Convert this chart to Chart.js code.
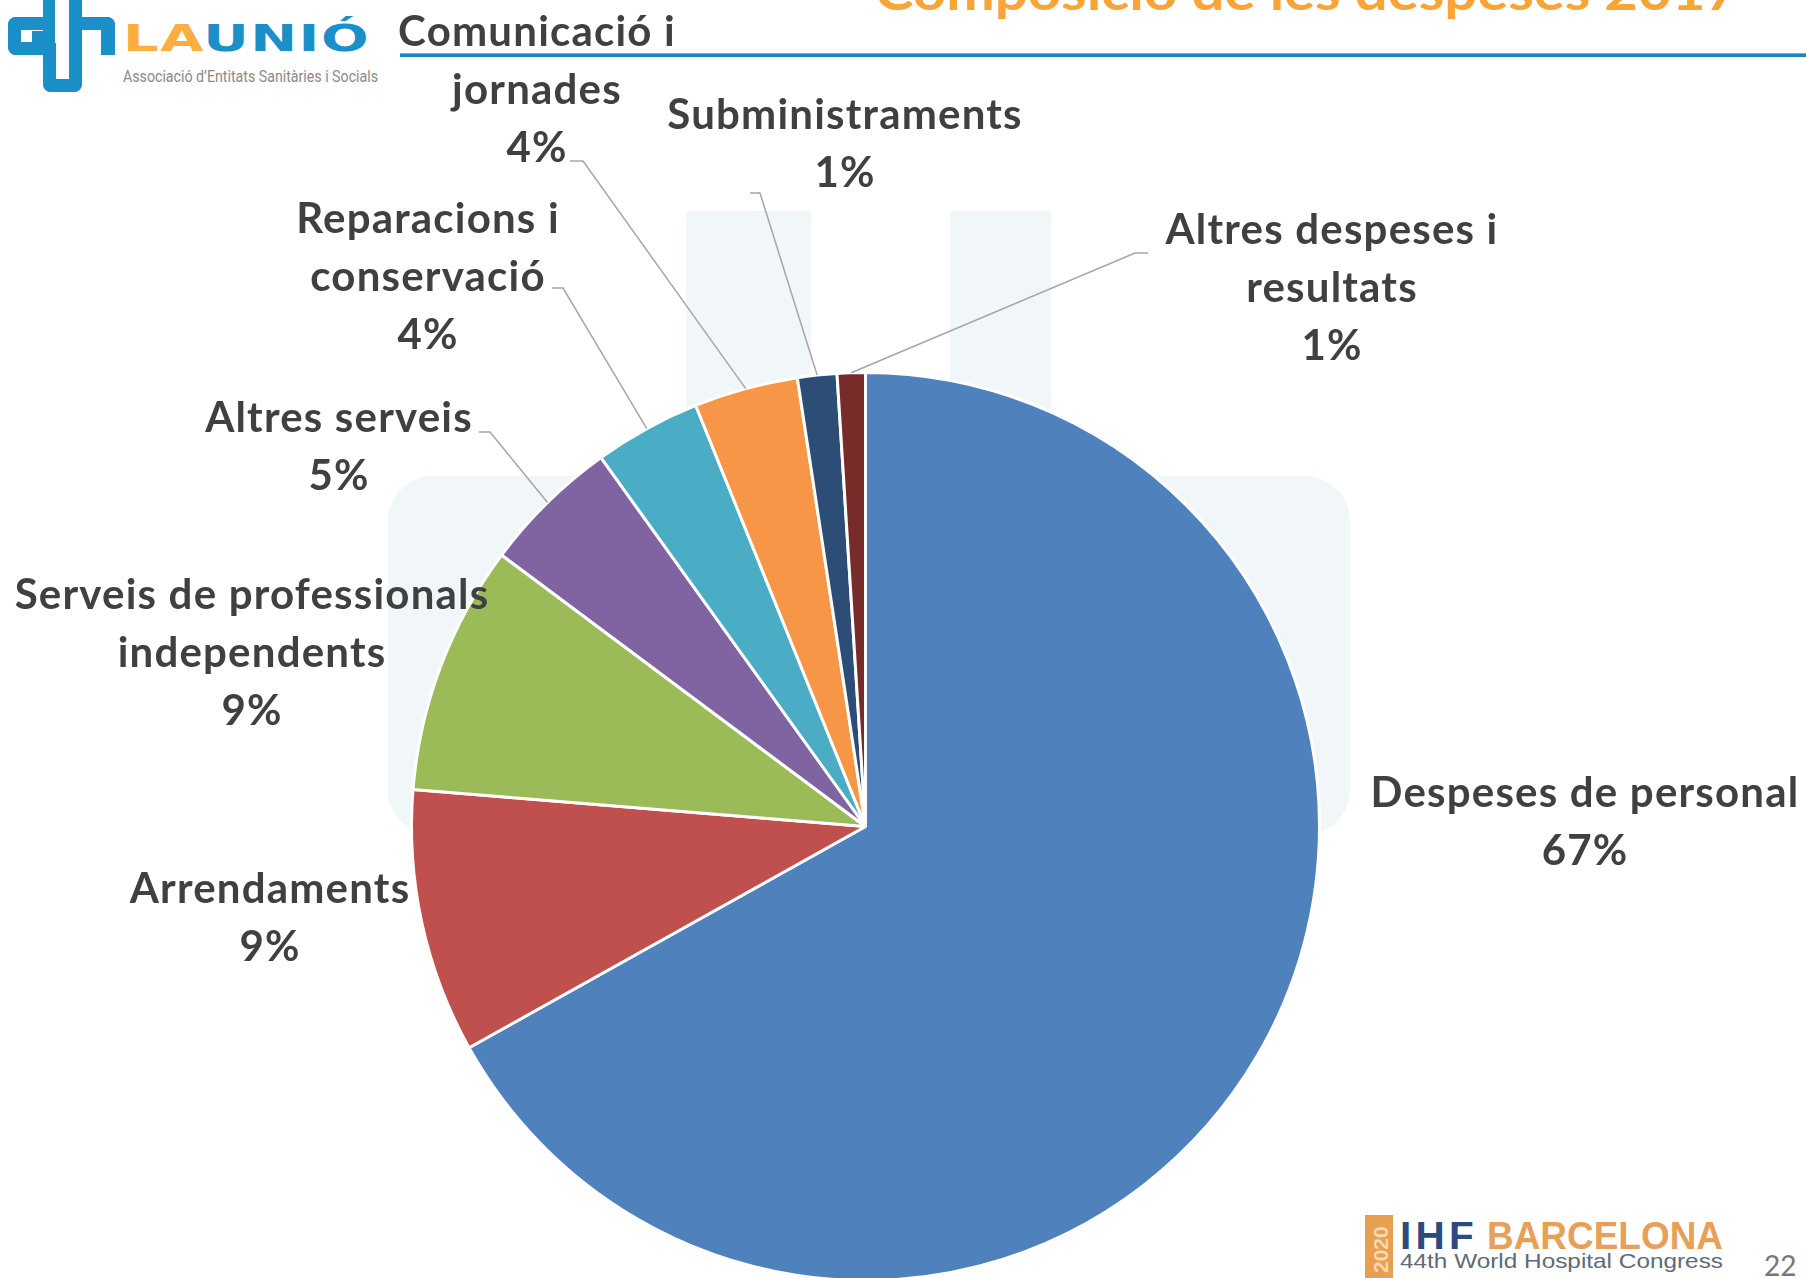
<!DOCTYPE html>
<html>
<head>
<meta charset="utf-8">
<script src="https://cdn.jsdelivr.net/npm/chart.js@4.4.1/dist/chart.umd.min.js"></script>
<style>
  html, body { margin:0; padding:0; width:1806px; height:1278px; overflow:hidden; background:#ffffff; }
  * { box-sizing:border-box; }
  .abs { position:absolute; }
  .wm { position:absolute; background:#f1f6f9; }
  .txt { position:absolute; white-space:nowrap; line-height:1; transform-origin:0 0; }
  .blue { position:absolute; background:#1b8fc7; }
  #chartWrap { position:absolute; left:0; top:0; width:1806px; height:1400px; }
</style>
</head>
<body>
<!-- faint watermark shapes -->
<div class="wm" style="left:686px; top:211px; width:125px; height:300px;"></div>
<div class="wm" style="left:950px; top:211px; width:101px; height:300px;"></div>
<div class="wm" style="left:388px; top:476px; width:962px; height:359px; border-radius:45px;"></div>

<!-- title (cut off at top) -->
<div class="txt" data-w="864" style="left:875px; top:-41px; font:bold 52px Lato; color:#f9a436;">Composició de les despeses 2017</div>
<!-- header line -->
<div class="abs" style="left:400px; top:53px; width:1406px; height:1px; background:#5fb3dc;"></div>
<div class="abs" style="left:400px; top:54px; width:1406px; height:3px; background:#1787c2;"></div>

<!-- La Unió logo -->
<div class="abs" style="left:8px; top:17px; width:36px; height:38px; border:13px solid #1b8fc7; border-right:none; border-radius:8px 0 0 8px;"></div>
<div class="blue" style="left:32px; top:31px; width:11px; height:11px;"></div>
<div class="blue" style="left:43px; top:0px; width:12px; height:44px;"></div>
<div class="blue" style="left:69px; top:0px; width:13px; height:55px;"></div>
<div class="abs" style="left:69px; top:17px; width:46px; height:38px; border-top:13px solid #1b8fc7; border-right:14px solid #1b8fc7; border-radius:0 8px 0 0;"></div>
<div class="abs" style="left:43px; top:43px; width:39px; height:49px; border:13px solid #1b8fc7; border-top:none; border-radius:0 0 8px 8px;"></div>
<div class="txt" data-w="247" style="left:123px; top:16px; font:bold 38px 'DejaVu Sans'; letter-spacing:1px;"><span style="color:#f9ae3f;">LA</span><span style="color:#1b8fc7;">UNIÓ</span></div>
<div class="txt" data-w="255" style="left:123px; top:66px; font:17px Roboto; color:#8a8a8a;">Associació d’Entitats Sanitàries i Socials</div>

<!-- IHF logo -->
<div class="abs" style="left:1365px; top:1215px; width:28px; height:63px; background:#e89f4f;"></div>
<div class="txt" style="left:1369px; top:1273px; font:bold 21px 'Liberation Sans'; color:#f7d9b4; transform:rotate(-90deg);">2020</div>
<div class="txt" data-w="78" style="left:1400px; top:1215px; font:bold 38px 'Liberation Sans'; color:#2b4a7d; letter-spacing:4px;">IHF</div>
<div class="txt" data-w="236" style="left:1487px; top:1215px; font:bold 38px 'Liberation Sans'; color:#e6a05a;">BARCELONA</div>
<div class="txt" data-w="323" style="left:1400px; top:1249px; font:21px 'Liberation Sans'; color:#5f6a78;">44th World Hospital Congress</div>
<div class="txt" style="left:1764px; top:1248px; font:28px Lato; color:#777777;">22</div>

<div id="chartWrap"><canvas id="c" width="1806" height="1400"></canvas></div>

<script>
// ---- data ----
const categories = [
  ['Despeses de personal'],
  ['Arrendaments'],
  ['Serveis de professionals', 'independents'],
  ['Altres serveis'],
  ['Reparacions i', 'conservació'],
  ['Comunicació i', 'jornades'],
  ['Subministraments'],
  ['Altres despeses i', 'resultats']
];
const values = [66.9, 9.4, 8.9, 4.9, 3.8, 3.7, 1.4, 1.0];
const colors = ['#4f81bd', '#c0504d', '#9bbb59', '#8064a2', '#4bacc6', '#f79646', '#2c4d75', '#772c2a'];

// ---- label layout (positions only) ----
const labelPos = [
  {x:1585, y:807}, {x:270, y:903}, {x:252, y:609}, {x:339, y:432},
  {x:428, y:233}, {x:537, y:46}, {x:845, y:129}, {x:1332, y:244}
];
const leaders = [
  null, null, null,
  {elbow:[490,432], end:[479,432]},
  {elbow:[563,288], end:[552,288]},
  {elbow:[583,161], end:[570,161]},
  {elbow:[760,193], end:[750,193]},
  {elbow:[1135,253], end:[1148,253]}
];
const lineH = 58;

const outLabels = {
  id: 'outLabels',
  afterDatasetsDraw(chart) {
    const ctx = chart.ctx;
    const meta = chart.getDatasetMeta(0);
    const data = chart.data.datasets[0].data;
    const total = data.reduce((a, b) => a + b, 0);
    ctx.save();
    meta.data.forEach((arc, i) => {
      const p = arc.getProps(['x', 'y', 'startAngle', 'endAngle', 'outerRadius'], true);
      const mid = (p.startAngle + p.endAngle) / 2;
      const px = p.x + Math.cos(mid) * p.outerRadius;
      const py = p.y + Math.sin(mid) * p.outerRadius;
      const L = leaders[i];
      if (L) {
        ctx.beginPath();
        ctx.strokeStyle = '#a6a6a6';
        ctx.lineWidth = 1.5;
        ctx.moveTo(px, py);
        ctx.lineTo(L.elbow[0], L.elbow[1]);
        ctx.lineTo(L.end[0], L.end[1]);
        ctx.stroke();
      }
      const lines = [...chart.data.labels[i], Math.round(data[i] / total * 100) + '%'];
      ctx.fillStyle = '#404040';
      ctx.font = 'bold 42px Lato';
      ctx.letterSpacing = '1.2px';
      ctx.textAlign = 'center';
      ctx.textBaseline = 'alphabetic';
      lines.forEach((t, k) => ctx.fillText(t, labelPos[i].x, labelPos[i].y + k * lineH));
    });
    ctx.restore();
  }
};

new Chart(document.getElementById('c'), {
  type: 'pie',
  data: {
    labels: categories,
    datasets: [{
      data: values,
      backgroundColor: colors,
      borderColor: '#ffffff',
      borderWidth: 3
    }]
  },
  options: {
    responsive: false,
    animation: false,
    devicePixelRatio: 1,
    layout: { padding: { left: 410, top: 371, right: 485, bottom: 118 } },
    plugins: { legend: { display: false }, tooltip: { enabled: false } }
  },
  plugins: [outLabels]
});

// fit decorative texts to measured widths
document.querySelectorAll('[data-w]').forEach(el => {
  const w = el.getBoundingClientRect().width;
  const target = parseFloat(el.dataset.w);
  if (w > 0) el.style.transform = 'scaleX(' + (target / w) + ')';
});
</script>
</body>
</html>
